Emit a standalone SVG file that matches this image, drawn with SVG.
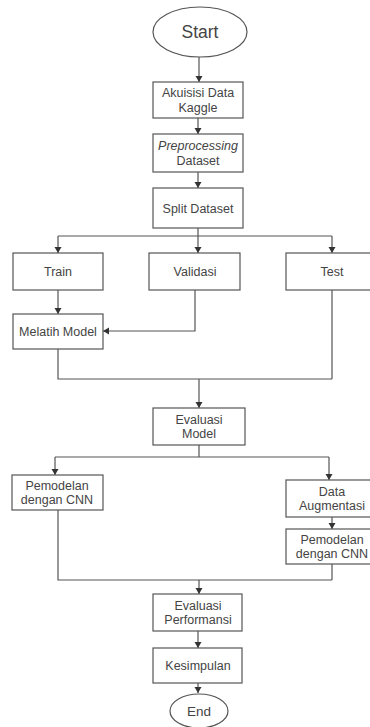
<svg xmlns="http://www.w3.org/2000/svg" width="370" height="727" viewBox="0 0 370 727">
<style>
.box{fill:#fff;stroke:#555;stroke-width:1.2}
.t{font-family:"Liberation Sans",Arial,sans-serif;font-size:12.5px;fill:#444;text-anchor:middle}
.c{fill:none;stroke:#555;stroke-width:1.2}
</style>
<defs>
<marker id="ah" markerUnits="userSpaceOnUse" markerWidth="8" markerHeight="8" refX="6" refY="3.5" orient="auto">
<path d="M0,0 L6,3.5 L0,7 Z" fill="#333"/>
</marker>
</defs>
<rect width="370" height="727" fill="#fff"/>
<g id="connectors">
<line class="c" x1="199" y1="57" x2="199" y2="82" marker-end="url(#ah)"/>
<line class="c" x1="198" y1="118" x2="198" y2="134" marker-end="url(#ah)"/>
<line class="c" x1="198" y1="172" x2="198" y2="188" marker-end="url(#ah)"/>
<path class="c" d="M198,228 V236 M58,236 H332"/>
<line class="c" x1="58" y1="236" x2="58" y2="253" marker-end="url(#ah)"/>
<line class="c" x1="198" y1="236" x2="198" y2="253" marker-end="url(#ah)"/>
<line class="c" x1="332" y1="236" x2="332" y2="253" marker-end="url(#ah)"/>
<line class="c" x1="58" y1="290" x2="58" y2="314" marker-end="url(#ah)"/>
<path class="c" d="M195,290 V331 H103" marker-end="url(#ah)"/>
<path class="c" d="M58,349 V379 H332 M332,290 V379"/>
<line class="c" x1="199" y1="379" x2="199" y2="408" marker-end="url(#ah)"/>
<path class="c" d="M199,445 V457 M55,457 H329"/>
<line class="c" x1="55" y1="457" x2="55" y2="475" marker-end="url(#ah)"/>
<line class="c" x1="329" y1="457" x2="329" y2="480" marker-end="url(#ah)"/>
<line class="c" x1="332" y1="517" x2="332" y2="529" marker-end="url(#ah)"/>
<path class="c" d="M58,510 V580 H332 M332,564 V580"/>
<line class="c" x1="199" y1="580" x2="199" y2="594" marker-end="url(#ah)"/>
<line class="c" x1="198" y1="631" x2="198" y2="648" marker-end="url(#ah)"/>
<line class="c" x1="198" y1="683" x2="198" y2="693" marker-end="url(#ah)"/>
</g>
<g id="start">
<ellipse class="box" cx="200" cy="32" rx="47" ry="25"/>
<text class="t" x="200" y="38" style="font-size:17.5px">Start</text>
</g>
<g id="akuisisi">
<rect class="box" x="153" y="82" width="90" height="36"/>
<text class="t" x="198" y="97">Akuisisi Data</text>
<text class="t" x="198" y="111.5">Kaggle</text>
</g>
<g id="preprocessing">
<rect class="box" x="153" y="134" width="90" height="38"/>
<text class="t" x="198" y="150" font-style="italic">Preprocessing</text>
<text class="t" x="198" y="164.5">Dataset</text>
</g>
<g id="split">
<rect class="box" x="153" y="188" width="90" height="40"/>
<text class="t" x="198" y="212.5">Split Dataset</text>
</g>
<g id="train">
<rect class="box" x="13" y="253" width="90" height="37"/>
<text class="t" x="58" y="276">Train</text>
</g>
<g id="validasi">
<rect class="box" x="149" y="253" width="91" height="37"/>
<text class="t" x="195" y="276">Validasi</text>
</g>
<g id="test">
<rect class="box" x="286" y="253" width="91" height="37"/>
<text class="t" x="332" y="276">Test</text>
</g>
<g id="melatih">
<rect class="box" x="13" y="314" width="90" height="35"/>
<text class="t" x="58" y="336">Melatih Model</text>
</g>
<g id="evaluasi-model">
<rect class="box" x="153" y="408" width="92" height="37"/>
<text class="t" x="199" y="423.7">Evaluasi</text>
<text class="t" x="199" y="438.2">Model</text>
</g>
<g id="pemodelan-cnn">
<rect class="box" x="12" y="475" width="91" height="35"/>
<text class="t" x="57" y="489.7">Pemodelan</text>
<text class="t" x="57" y="504.2">dengan CNN</text>
</g>
<g id="augmentasi">
<rect class="box" x="286" y="480" width="91" height="37"/>
<text class="t" x="332" y="495.7">Data</text>
<text class="t" x="332" y="510.2">Augmentasi</text>
</g>
<g id="pemodelan-cnn-aug">
<rect class="box" x="286" y="529" width="91" height="35"/>
<text class="t" x="332" y="543.7">Pemodelan</text>
<text class="t" x="332" y="558.2">dengan CNN</text>
</g>
<g id="evaluasi-performansi">
<rect class="box" x="153" y="594" width="89" height="37"/>
<text class="t" x="198" y="609.7">Evaluasi</text>
<text class="t" x="198" y="624.2">Performansi</text>
</g>
<g id="kesimpulan">
<rect class="box" x="153" y="648" width="89" height="35"/>
<text class="t" x="198" y="670">Kesimpulan</text>
</g>
<g id="end">
<ellipse class="box" cx="199" cy="711" rx="29" ry="17"/>
<text class="t" x="199" y="716" style="font-size:13.5px">End</text>
</g>
</svg>
